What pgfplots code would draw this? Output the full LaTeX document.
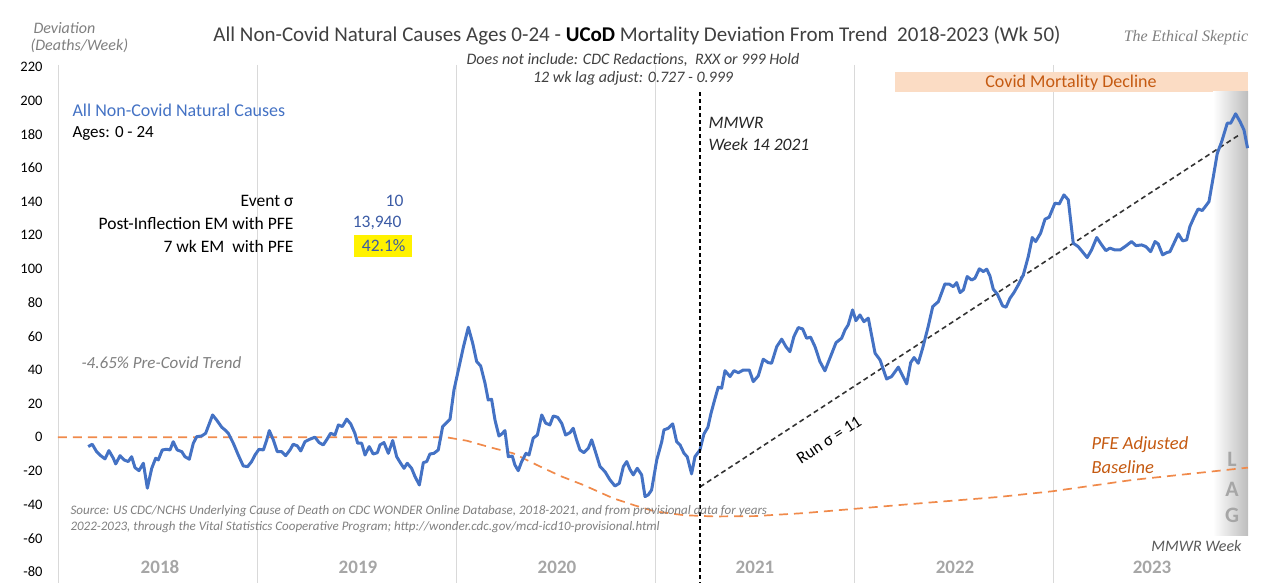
\documentclass[border=0pt]{standalone}
\usepackage{fontspec}
\setmainfont{Carlito}
\newfontfamily\skepfont{Liberation Serif}
\usepackage{pgfplots}
\pgfplotsset{compat=1.18}
\usepackage{pgfplotstable}

\definecolor{lineblue}{HTML}{4472C4}
\definecolor{valblue}{HTML}{3B5BA5}
\definecolor{pfeorange}{HTML}{F08A4B}
\definecolor{pfetext}{HTML}{C55A11}
\definecolor{titlegray}{HTML}{404040}
\definecolor{midgray}{HTML}{7F7F7F}
\definecolor{yeargray}{HTML}{A6A6A6}
\definecolor{gridgray}{HTML}{D9D9D9}
\definecolor{peach}{HTML}{FBDCC4}
\definecolor{laggray}{HTML}{BDBDBD}
\newcommand{\fs}[1]{\fontsize{#1}{#1}\selectfont}

% weekly deviation, x in decimal years
\pgfplotstableread{
yr val
2018.152 -5.5
2018.172 -4.1
2018.194 -8.5
2018.215 -10.9
2018.236 -12.8
2018.256 -7.9
2018.278 -12.4
2018.290 -15.8
2018.312 -10.9
2018.332 -13.4
2018.353 -14.4
2018.370 -11.5
2018.387 -18.0
2018.407 -19.8
2018.429 -15.4
2018.449 -30.2
2018.471 -18.4
2018.491 -12.4
2018.504 -13.4
2018.524 -7.5
2018.546 -7.1
2018.563 -7.5
2018.579 -2.6
2018.599 -7.5
2018.622 -8.5
2018.638 -11.5
2018.660 -13.0
2018.680 -3.5
2018.697 0.4
2018.722 0.8
2018.742 2.4
2018.777 13.3
2018.797 10.3
2018.823 6.0
2018.843 4.0
2018.856 2.4
2018.881 -3.5
2018.906 -10.5
2018.931 -17.0
2018.953 -17.4
2018.973 -14.4
2018.990 -10.5
2019.010 -7.1
2019.032 -7.5
2019.049 -1.5
2019.062 4.0
2019.082 -1.5
2019.102 -8.5
2019.124 -8.5
2019.144 -10.9
2019.166 -7.5
2019.182 -4.1
2019.203 -5.1
2019.220 -8.1
2019.241 -2.6
2019.266 -1.1
2019.291 0.1
2019.312 -3.1
2019.333 -4.5
2019.350 -1.5
2019.370 2.4
2019.392 1.4
2019.409 7.4
2019.429 6.4
2019.451 10.8
2019.471 8.0
2019.492 2.4
2019.506 -3.5
2019.526 -3.5
2019.543 -10.5
2019.564 -5.5
2019.584 -9.9
2019.605 -9.1
2019.618 -4.5
2019.638 -3.1
2019.660 -9.5
2019.682 -1.9
2019.702 -11.5
2019.722 -15.4
2019.739 -18.4
2019.755 -15.4
2019.777 -18.4
2019.794 -23.3
2019.816 -28.3
2019.836 -15.0
2019.853 -14.4
2019.869 -9.9
2019.889 -9.5
2019.911 -7.5
2019.933 6.4
2019.953 8.7
2019.970 10.8
2019.990 28.2
2020.012 40.0
2020.037 53.5
2020.062 65.4
2020.084 55.9
2020.104 45.0
2020.124 42.4
2020.146 32.1
2020.162 22.2
2020.179 22.6
2020.196 10.3
2020.216 0.8
2020.230 2.0
2020.246 4.0
2020.263 -11.5
2020.283 -11.1
2020.296 -16.4
2020.313 -19.8
2020.330 -14.4
2020.352 -9.5
2020.367 -10.5
2020.388 -0.5
2020.409 1.4
2020.431 13.3
2020.451 8.4
2020.472 7.4
2020.489 12.7
2020.511 11.9
2020.531 8.4
2020.551 1.4
2020.573 2.8
2020.589 5.4
2020.606 -1.5
2020.623 -7.5
2020.643 -9.1
2020.665 -6.5
2020.682 -1.5
2020.698 -7.5
2020.724 -17.4
2020.749 -20.4
2020.774 -25.3
2020.799 -28.9
2020.821 -27.3
2020.841 -17.4
2020.858 -14.4
2020.874 -19.0
2020.891 -22.3
2020.911 -18.4
2020.933 -22.3
2020.950 -35.2
2020.966 -34.2
2020.983 -31.3
2021.009 -13.4
2021.034 -2.6
2021.045 4.4
2021.067 5.4
2021.089 8.0
2021.109 -2.6
2021.126 -4.5
2021.146 -9.5
2021.162 -11.5
2021.184 -21.7
2021.201 -11.5
2021.226 -7.5
2021.246 2.0
2021.266 6.0
2021.281 14.0
2021.302 23.2
2021.318 29.8
2021.335 29.2
2021.352 39.6
2021.377 36.1
2021.397 39.6
2021.419 38.4
2021.444 40.0
2021.474 40.0
2021.494 33.1
2021.519 36.5
2021.544 46.4
2021.569 44.4
2021.586 44.0
2021.612 53.9
2021.637 58.3
2021.658 53.9
2021.678 50.9
2021.698 59.8
2021.720 65.2
2021.742 64.4
2021.762 58.9
2021.782 59.5
2021.804 53.9
2021.829 45.0
2021.854 39.5
2021.879 47.0
2021.910 56.3
2021.938 58.9
2021.955 63.8
2021.971 66.8
2021.993 75.7
2022.010 69.3
2022.030 72.7
2022.050 68.7
2022.072 70.8
2022.106 50.0
2022.131 46.0
2022.164 34.7
2022.189 36.1
2022.223 41.7
2022.265 31.7
2022.285 44.4
2022.302 47.4
2022.323 44.0
2022.345 52.9
2022.373 65.8
2022.396 77.7
2022.424 80.6
2022.457 91.1
2022.479 91.0
2022.499 89.5
2022.516 91.9
2022.533 86.0
2022.550 87.6
2022.569 95.5
2022.591 93.5
2022.608 94.5
2022.630 100.1
2022.650 98.5
2022.667 99.9
2022.683 96.0
2022.700 88.0
2022.720 85.2
2022.747 78.1
2022.764 77.3
2022.784 82.6
2022.804 86.0
2022.826 90.6
2022.851 96.5
2022.876 107.4
2022.896 118.7
2022.913 116.3
2022.938 121.3
2022.960 129.6
2022.981 130.8
2023.010 139.1
2023.032 138.7
2023.055 144.0
2023.077 141.1
2023.102 115.3
2023.127 113.3
2023.152 109.7
2023.172 106.8
2023.194 111.3
2023.220 118.7
2023.245 114.3
2023.266 110.9
2023.286 112.4
2023.312 111.3
2023.337 111.3
2023.362 113.3
2023.395 116.3
2023.417 113.9
2023.446 114.3
2023.467 113.3
2023.491 110.3
2023.513 116.3
2023.529 114.9
2023.551 108.4
2023.571 109.7
2023.588 110.3
2023.608 115.3
2023.630 120.9
2023.652 116.7
2023.672 117.3
2023.688 125.2
2023.709 130.8
2023.730 135.7
2023.750 134.7
2023.772 138.1
2023.784 140.0
2023.806 154.9
2023.826 168.8
2023.848 175.7
2023.876 186.6
2023.893 186.6
2023.918 192.2
2023.940 187.6
2023.960 182.6
2023.978 171.8
}\ucod

% PFE adjusted baseline
\pgfplotstableread{
yr val
2018.000 0
2019.500 0
2019.953 0
2020.054 -2.0
2020.171 -5.9
2020.288 -9.5
2020.406 -16.4
2020.523 -22.9
2020.640 -28.3
2020.790 -36.2
2020.900 -40.5
2021.000 -44.0
2021.150 -46.3
2021.300 -47.0
2021.500 -46.8
2021.750 -45.0
2022.000 -42.5
2022.300 -39.5
2022.730 -35.4
2023.000 -32.0
2023.400 -25.3
2023.980 -18.0
}\pfe

\begin{document}
\begin{tikzpicture}
\useasboundingbox (0pt,0pt) rectangle (1264pt,-583pt);
\begin{scope}[x=1pt,y=1pt]
\foreach \gx in {58,257,456,655,854,1053}{
  \draw[gridgray, line width=1] (\gx,-65) -- (\gx,-583);
}
\fill[peach] (895,-72) rectangle (1248,-92);
\shade[left color=white, right color=laggray] (1213,-92) rectangle (1248,-535);
\end{scope}

\begin{axis}[
    at={(58pt,-572pt)}, anchor=south west,
    scale only axis,
    width=1194pt, height=505pt,
    xmin=2018, xmax=2024,
    ymin=-80, ymax=220,
    axis line style={draw=none},
    tick style={draw=none},
    xtick=\empty,
    ytick={-80,-60,...,220},
    yticklabel style={font=\fs{14.5}, xshift=-12pt},
    /pgf/number format/assume math mode=true,
    clip=false,
]
\addplot[pfeorange, line width=1.7pt, dash pattern=on 9pt off 6pt] table[x=yr,y=val]{\pfe};
\addplot[black!80, line width=1.6pt, dash pattern=on 5pt off 3.5pt] coordinates {(2021.226,-29.5) (2023.94,180)};
\addplot[lineblue, line width=3pt, line join=round] table[x=yr,y=val]{\ucod};
\draw[black, line width=1.4pt, dash pattern=on 4pt off 3pt] (axis cs:2021.226,205) -- (axis cs:2021.226,-87);
\end{axis}

\begin{scope}[x=1pt,y=1pt]
\node[text=titlegray, font=\fs{21}] at (637,-36)
  {All Non-Covid Natural Causes Ages 0-24 - \textcolor{black}{\bfseries UCoD} Mortality Deviation From Trend\ \ 2018-2023 (Wk 50)};
\node[text=titlegray, font=\itshape\fs{16}] at (633,-60) {Does not include: CDC Redactions,\ \ RXX or 999 Hold};
\node[text=titlegray, font=\itshape\fs{16}] at (633,-78) {12 wk lag adjust: 0.727 - 0.999};
\node[text=midgray, font=\skepfont\itshape\fs{16}] at (1186,-38) {The Ethical Skeptic};
\node[anchor=west, text=midgray, font=\itshape\fs{16}] at (30,-28) {Deviation};
\node[anchor=west, text=midgray, font=\itshape\fs{16}] at (27,-46) {(Deaths/Week)};

\node[text=pfetext, font=\fs{18}] at (1071,-83) {Covid Mortality Decline};

\node[anchor=west, text=lineblue, font=\fs{18}] at (69,-110) {All Non-Covid Natural Causes};
\node[anchor=west, font=\fs{17}] at (69,-133) {Ages: 0 - 24};

\fill[yellow] (354,-235) rectangle (412,-257);
\node[anchor=east, font=\fs{17.5}] at (297,-201) {Event σ};
\node[anchor=east, font=\fs{17.5}] at (297,-223) {Post-Inflection EM with PFE};
\node[anchor=east, font=\fs{17.5}] at (297,-246) {7 wk EM\ \ with PFE};
\node[anchor=east, text=valblue, font=\fs{17.5}] at (407,-201) {10};
\node[anchor=east, text=valblue, font=\fs{17.5}] at (405,-223) {13,940};
\node[anchor=east, text=valblue, font=\fs{17.5}] at (409,-246) {42.1\%};

\node[anchor=west, text=midgray, font=\itshape\fs{17}] at (78,-363) {-4.65\% Pre-Covid Trend};

\node[anchor=west, text=black!85, font=\itshape\fs{17.5}] at (705,-123) {MMWR};
\node[anchor=west, text=black!85, font=\itshape\fs{17.5}] at (705,-144) {Week 14 2021};

\node[rotate=33, font=\fs{17}] at (829,-440) {Run σ = 11};

\node[anchor=west, text=pfetext, font=\itshape\fs{18.5}] at (1088,-445) {PFE Adjusted};
\node[anchor=west, text=pfetext, font=\itshape\fs{18.5}] at (1088,-467) {Baseline};

\node[text=yeargray, font=\bfseries\fs{22}] at (1232,-459) {L};
\node[text=yeargray, font=\bfseries\fs{22}] at (1232,-489) {A};
\node[text=yeargray, font=\bfseries\fs{22}] at (1232,-515) {G};
\node[anchor=east, text=black!65, font=\itshape\fs{16}] at (1245,-546) {MMWR Week};

\node[anchor=west, text=midgray, font=\itshape\fs{13}] at (67,-511)
  {Source: US CDC/NCHS Underlying Cause of Death on CDC WONDER Online Database, 2018-2021, and from provisional data for years};
\node[anchor=west, text=midgray, font=\itshape\fs{13}] at (67,-527)
  {2022-2023, through the Vital Statistics Cooperative Program; http://wonder.cdc.gov/mcd-icd10-provisional.html};

\foreach \yx/\yl in {160/2018,358/2019,557/2020,755/2021,955/2022,1152/2023}{
  \node[text=yeargray, font=\bfseries\fs{19}] at (\yx,-567) {\yl};
}
\end{scope}
\end{tikzpicture}
\end{document}
